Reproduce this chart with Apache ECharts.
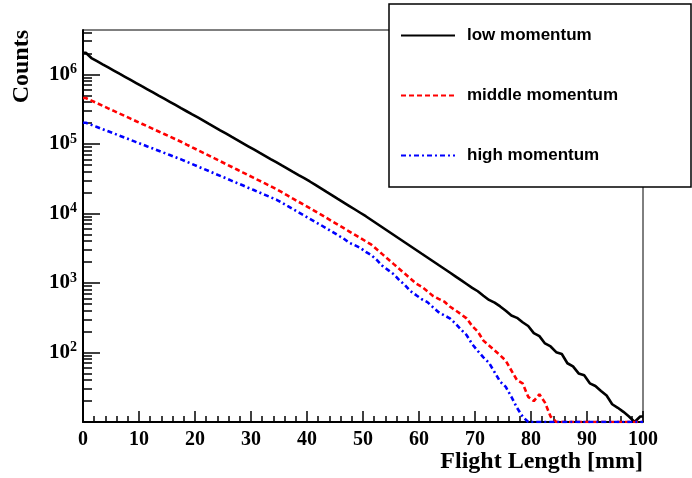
<!DOCTYPE html>
<html>
<head>
<meta charset="utf-8">
<script src="https://cdn.jsdelivr.net/npm/echarts@6/dist/echarts.min.js"></script>
<style>html,body{margin:0;padding:0;background:#fff}#c{width:692px;height:478px}</style>
</head>
<body>
<div id="c"></div>
<script>
// bin centres (mm), 1 mm bins from 0 to 100
const binCentre = Array.from({length: 100}, (_, i) => i + 0.5);
const xRange = [0, 100];

const lowMomentum = [
 2050000, 1718000, 1549000, 1396000, 1259000, 1135000, 1023000, 923000, 832000, 750000,
 676000, 610000, 550000, 495000, 447000, 403000, 363000, 327000, 295000, 266000,
 240000, 216000, 194000, 174600, 157000, 141300, 127000, 114300, 102800, 92500,
 83200, 74800, 67300, 60500, 54500, 49000, 44100, 39600, 35600, 32100,
 28800, 25700, 22900, 20400, 18200, 16200, 14450, 12880, 11480, 10230,
 9120, 8054, 7112, 6281, 5546, 4898, 4325, 3819, 3373, 2979,
 2630, 2323, 2051, 1811, 1600, 1413, 1245, 1096, 966, 851,
 760, 655, 570, 520, 460, 398, 340, 315, 272, 240,
 190, 172, 135, 122, 101, 95, 70, 63, 50, 47,
 36, 33, 28, 24, 18, 16, 14, 12, 10, 12
];
const middleMomentum = [
 457000, 420000, 385500, 354000, 325000, 298500, 274000, 252000, 231000, 212000,
 195000, 179000, 164400, 151000, 138700, 127400, 117000, 107400, 97900, 89300,
 81500, 74300, 67800, 61800, 56400, 51400, 46900, 42800, 39000, 35600,
 32400, 29600, 27000, 24600, 22400, 20200, 18160, 16330, 14690, 13210,
 11890, 10690, 9616, 8610, 7709, 6902, 6180, 5534, 4955, 4436,
 3972, 3556, 3027, 2576, 2193, 1866, 1589, 1352, 1151, 979,
 880, 760, 650, 590, 540, 458, 404, 355, 309, 240,
 200, 148, 126, 107, 91, 76, 55, 40, 36, 23,
 20, 25, 19, 12, 10, 10, 10, 10, 10, 10,
 10, 10, 10, 10, 10, 10, 10, 10, 10, 10
];
const highMomentum = [
 201800, 187900, 175000, 162900, 151700, 141300, 131500, 122500, 114000, 106200,
 98900, 92000, 85700, 79800, 74300, 69200, 64400, 60000, 55500, 51300,
 47400, 43900, 40600, 37500, 34700, 32100, 29600, 27400, 25400, 23400,
 21700, 20000, 18500, 17100, 15850, 14260, 12820, 11530, 10380, 9333,
 8395, 7551, 6792, 6081, 5445, 4875, 4365, 3800, 3499, 3200,
 2805, 2512, 2128, 1750, 1528, 1330, 1096, 929, 760, 667,
 583, 530, 447, 380, 342, 310, 262, 214, 178, 132,
 105, 85, 71, 52, 38, 32, 23, 16, 12, 10,
 10, 10, 10, 10, 10, 10, 10, 10, 10, 10,
 10, 10, 10, 10, 10, 10, 10, 10, 10, 10
];

const seriesNames = ['low momentum', 'middle momentum', 'high momentum'];
const xTitle = 'Flight Length [mm]';
const yTitle = 'Counts';
const yMin = 10, yMax = 4.35e6;
const xTicks = {min: 0, max: 100, interval: 10};
const decades = [10, 100, 1000, 10000, 100000, 1000000];
const labelDecades = [100, 1000, 10000, 100000, 1000000];

const minorVals = [];
decades.forEach(d => { for (let k = 2; k <= 9; k++) { const v = d * k; if (v <= yMax) minorVals.push(v); } });

function hist(vals) {
  const pts = [[xRange[0], vals[0]]];
  binCentre.forEach((x, i) => pts.push([x, vals[i]]));
  pts.push([xRange[1], vals[vals.length - 1]]);
  return pts;
}

const serif = 'Liberation Serif';
const chart = echarts.init(document.getElementById('c'), null, {renderer: 'canvas'});
chart.setOption({
  animation: false,
  backgroundColor: '#fff',
  grid: {left: 83, right: 49, top: 30, bottom: 56, show: true, borderColor: '#000', borderWidth: 1,
         backgroundColor: 'transparent', containLabel: false, outerBoundsMode: 'none'},
  xAxis: {
    type: 'value', min: xTicks.min, max: xTicks.max, interval: xTicks.interval,
    axisLine: {onZero: false, lineStyle: {color: '#000', width: 2}},
    axisTick: {inside: true, length: 11, lineStyle: {color: '#000', width: 1.5}},
    minorTick: {show: true, splitNumber: 5, length: 6, lineStyle: {color: '#000', width: 1.5}},
    splitLine: {show: false},
    axisLabel: {fontFamily: serif, fontWeight: 'bold', fontSize: 20, color: '#000', margin: 8}
  },
  yAxis: [{
    type: 'log', logBase: 10, min: yMin, max: yMax,
    axisLine: {show: true, onZero: false, lineStyle: {color: '#000', width: 2}},
    axisTick: {inside: true, length: 17, customValues: decades, lineStyle: {color: '#000', width: 1.5}},
    splitLine: {show: false},
    axisLabel: {
      customValues: labelDecades, margin: 6,
      formatter: v => '{b|10}{s|' + Math.round(Math.log10(v)) + '}',
      rich: {
        b: {fontFamily: serif, fontWeight: 'bold', fontSize: 21, color: '#000', lineHeight: 24},
        s: {fontFamily: serif, fontWeight: 'bold', fontSize: 14, color: '#000', lineHeight: 14, verticalAlign: 'top'}
      }
    }
  }, {
    type: 'log', logBase: 10, min: yMin, max: yMax, position: 'left',
    axisLine: {show: false},
    axisLabel: {show: false},
    splitLine: {show: false},
    axisTick: {show: true, inside: true, length: 9, customValues: minorVals, lineStyle: {color: '#000', width: 1.5}}
  }],
  legend: {
    orient: 'vertical', left: 400, top: 27, z: 100, padding: 0,
    itemWidth: 54, itemHeight: 20, itemGap: 43,
    itemStyle: {opacity: 0},
    lineStyle: {width: 2},
    textStyle: {fontFamily: 'Liberation Sans', fontWeight: 'bold', fontSize: 17, color: '#000', padding: [0, 0, 0, 7]},
    data: seriesNames
  },
  graphic: [
    {type: 'rect', z: 50, shape: {x: 389, y: 4, width: 302, height: 183}, style: {fill: '#fff', stroke: '#000', lineWidth: 1.5}},
    {type: 'text', z: 50, x: 22, y: 30, rotation: Math.PI / 2, style: {text: yTitle, fontFamily: serif, fontWeight: 'bold', fontSize: 24, fill: '#000', align: 'right', verticalAlign: 'middle'}},
    {type: 'text', z: 50, x: 643, y: 462, style: {text: xTitle, fontFamily: serif, fontWeight: 'bold', fontSize: 24, fill: '#000', align: 'right', verticalAlign: 'middle'}}
  ],
  series: [
    {name: seriesNames[0], type: 'line', symbol: 'none', clip: true, data: hist(lowMomentum),
     lineStyle: {color: '#000', width: 2.6, type: 'solid'}, itemStyle: {color: '#000'}},
    {name: seriesNames[1], type: 'line', symbol: 'none', clip: true, data: hist(middleMomentum),
     lineStyle: {color: '#ff0000', width: 2.6, type: [5, 3]}, itemStyle: {color: '#ff0000'}},
    {name: seriesNames[2], type: 'line', symbol: 'none', clip: true, data: hist(highMomentum),
     lineStyle: {color: '#0000ff', width: 2.6, type: [5, 3, 2, 3]}, itemStyle: {color: '#0000ff'}}
  ]
});
</script>
</body>
</html>
